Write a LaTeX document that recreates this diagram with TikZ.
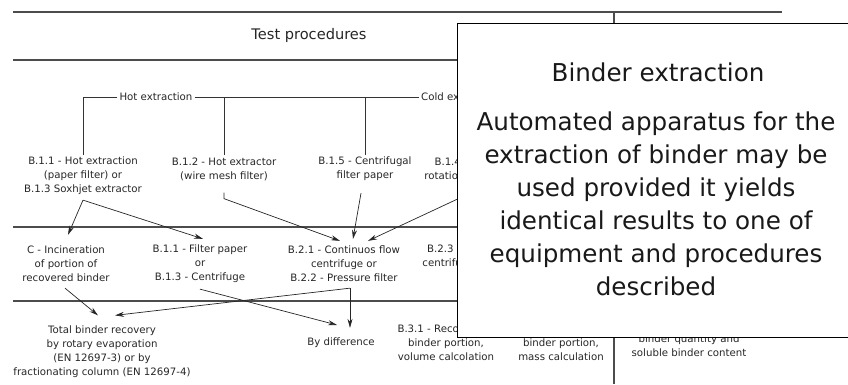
\documentclass[tikz,border=0pt]{standalone}
\usepackage{fontspec}
\setmainfont{DejaVu Sans}
\usetikzlibrary{arrows.meta,calc}

\begin{document}
\begin{tikzpicture}[x=1pt, y=-1pt]

	\def\xl{13}
	\def\xr{782}
	\def\xcol{614}
	\def\ytop{12}
	\def\yhead{60}
	\def\yhot{97}
	\def\yrowa{227}
	\def\yrowb{301}

	% Colours
	\colorlet{rulecolor}{black!70}
	\colorlet{textcolor}{black!85}

	% Styles
	\tikzstyle{rule}=[rulecolor, line width=1.2pt]
	\tikzstyle{bracket}=[black!80, line width=0.7pt]
	\tikzstyle{flow}=[-{Stealth[length=9pt, width=5pt]}, black!85, line width=0.7pt]
	\tikzstyle{proc}=[textcolor, font=\fontsize{10.2}{14}\selectfont, align=center, inner sep=2pt]
	\tikzstyle{notebox}=[draw, fill=white, line width=0.8pt]
	\tikzstyle{notetxt}=[black!90, font=\fontsize{24.6}{33}\selectfont, align=center]

	\useasboundingbox (0,0) rectangle (848,384);

	%== Table frame ===========================================================
	\draw[rule] (\xl,\ytop) -- (\xr,\ytop);
	\draw[rule] (\xl,\yhead) -- (\xcol,\yhead);
	\draw[rule] (\xl,\yrowa) -- (\xcol,\yrowa);
	\draw[rule] (\xl,\yrowb) -- (\xcol,\yrowb);
	\draw[rule] (\xcol,\ytop) -- (\xcol,384);

	\node[textcolor, font=\fontsize{14.6}{16}\selectfont] (title) at (309,35) {Test procedures};

	%== Extraction ============================================================
	\node[proc] (hot) at (156,\yhot) {Hot extraction};
	\node[proc, anchor=west] (cold) at (419,\yhot) {Cold extraction};

	\node[proc] (b11) at (83,176) {B.1.1 - Hot extraction\\(paper filter) or\\B.1.3 Soxhjet extractor};
	\node[proc] (b12) at (224,169) {B.1.2 - Hot extractor\\(wire mesh filter)};
	\node[proc] (b15) at (365,169) {B.1.5 - Centrifugal\\filter paper};
	\node[proc] (b14) at (468,169) {B.1.4 - Bottle\\rotation machine};

	\draw[bracket] (hot.west) -| (b11.north);
	\draw[bracket] (hot.east) -- (cold.west);
	\draw[bracket] (b12.north |- hot) -- (b12.north);
	\draw[bracket] (b15.north |- hot) -- (b15.north);

	%== Separation ============================================================
	\node[proc] (inc) at (66,264) {C - Incineration\\of portion of\\recovered binder};
	\node[proc] (fp) at (200,264) {B.1.1 - Filter paper\\or\\B.1.3 - Centrifuge};
	\node[proc] (cf) at (344,264) {B.2.1 - Continuos flow\\centrifuge or\\B.2.2 - Pressure filter};
	\node[proc] (b23) at (460,256.5) {B.2.3 - Batch\\centrifuge unit};

	\draw[flow] ($(b11.south)+(0,3)$) -- ($(inc.north)+(2,-9)$);
	\draw[flow] ($(b11.south)+(0,3)$) -- ($(fp.north)+(3,-4)$);
	\draw[flow] ($(b12.south)+(0,10)$) -- ++(0,6) -- ($(cf.north)+(-4,-3)$);
	\draw[flow] ($(b15.south)+(-4,10)$) -- ($(cf.north)+(9,-5)$);
	\draw[flow] ($(b14.south)+(0,12)$) -- ($(cf.north)+(24,-3)$);

	%== Recovery ==============================================================
	\node[proc] (tot) at (102,351.5) {Total binder recovery\\by rotary evaporation\\(EN 12697-3) or by\\fractionating column (EN 12697-4)};
	\node[proc] (diff) at (341,343) {By difference};
	\node[proc] (b31) at (446,343) {B.3.1 - Recovery of\\binder portion,\\volume calcolation};
	\node[proc] (b32) at (561,343) {B.3.2 - Recovery of\\binder portion,\\mass calculation};
	\node[proc] (sol) at (689,346) {binder quantity and\\soluble binder content};

	\draw[flow] ($(inc.south)+(-1,4)$) -- ($(tot.north)+(-4,-8)$);
	\draw[flow] ($(fp.south)+(0,4)$) -- ($(diff.west)+(32,-18)$);
	\draw[flow] ($(cf.south)+(6,4)$) coordinate (cfout) -- ($(diff.north)+(9,-8)$);
	\draw[flow] (cfout) -- ($(tot.north)+(13,-8)$);

	%== Note ==================================================================
	\draw[notebox] (457,23) rectangle (850,337);
	\node[notetxt] (notetitle) at (658,72) {Binder extraction};
	\node[notetxt] (notetext) at (656,203.5) {Automated apparatus for the\\extraction of binder may be\\used provided it yields\\identical results to one of\\equipment and procedures\\described};

\end{tikzpicture}
\end{document}
